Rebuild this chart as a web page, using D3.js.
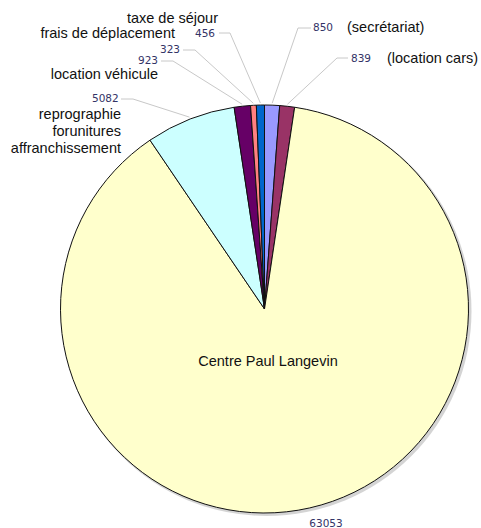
<!DOCTYPE html>
<html>
<head>
<meta charset="utf-8">
<script src="https://cdn.jsdelivr.net/npm/d3@7"></script>
<style>
  body { margin: 0; background: #fff; }
  svg { display: block; }
</style>
</head>
<body>
<div id="pieChart"></div>
<script>
// 1: DATA (clockwise from 12 o'clock)
const categories = ["(secrétariat)", "(location cars)", "Centre Paul Langevin", "reprographie\nforunitures\naffranchissement", "location véhicule", "frais de déplacement", "taxe de séjour"];
const values = [850, 839, 63053, 5082, 923, 323, 456];
const colors = ["#9999ff", "#993366", "#ffffcc", "#ccffff", "#660066", "#ff8080", "#0066cc"];

// label layout (value label anchor, category label anchor)
const valuePos = [[313, 31], [351, 62], [326, 527], [92, 102], [138, 64], [160, 53], [195, 37]];
const catPos = [[347, 32, "start"], [387, 63, "start"], [268, 366, "middle"], [121, 119, "end"], [158, 79, "end"], [175, 38, "end"], [218, 23, "end"]];
const elbow = [[298, 28], [337, 58], null, [133, 99], [173, 61], [195, 50], [230, 33]];
const leaderStart = [[311, 28], [348, 58], null, [121, 99], [161, 61], [183, 50], [219, 33]];

const W = 481, H = 528;
const cx = 264.5, cy = 309, radius = 204;

const svg = d3.select("#pieChart")
    .append("svg")
    .attr("width", W)
    .attr("height", H);

const data = values.map((v, i) => ({ name: categories[i], value: v, color: colors[i], i }));

const pie = d3.pie().sort(null).value(d => d.value);
const arcs = pie(data);

const arc = d3.arc().innerRadius(0).outerRadius(radius);
const rim = d3.arc().innerRadius(radius + 2).outerRadius(radius + 2);

const g = svg.append("g").attr("transform", `translate(${cx},${cy})`);

// soft shadow
g.append("circle")
    .attr("cx", 2).attr("cy", 2)
    .attr("r", radius + 1)
    .attr("fill", "#b8b8b8")
    .attr("opacity", 0.6);

g.selectAll("path.slice")
    .data(arcs)
    .enter()
    .append("path")
    .attr("class", "slice")
    .attr("d", arc)
    .attr("fill", d => d.data.color)
    .attr("stroke", "#111")
    .attr("stroke-width", 1)
    .attr("stroke-linejoin", "round");

// leader lines
arcs.forEach((d, i) => {
    if (!elbow[i]) return;
    const [px, py] = rim.centroid(d);
    const pts = [leaderStart[i], elbow[i], [cx + px, cy + py]];
    svg.append("polyline")
        .attr("points", pts.map(p => p.join(",")).join(" "))
        .attr("fill", "none")
        .attr("stroke", "#c8c8c8")
        .attr("stroke-width", 1);
});

// value labels
svg.selectAll("text.val")
    .data(data)
    .enter()
    .append("text")
    .attr("class", "val")
    .attr("x", d => valuePos[d.i][0])
    .attr("y", d => valuePos[d.i][1])
    .attr("text-anchor", d => d.i === 2 ? "middle" : "start")
    .attr("font-family", "DejaVu Sans, sans-serif")
    .attr("font-size", "10.5px")
    .attr("fill", "#333366")
    .text(d => d.value);

// category labels
data.forEach(d => {
    const [x, y, anchor] = catPos[d.i];
    const t = svg.append("text")
        .attr("x", x)
        .attr("y", y)
        .attr("text-anchor", anchor)
        .attr("font-family", "Liberation Sans, Arial, sans-serif")
        .attr("font-size", "14.5px")
        .attr("fill", "#111");
    d.name.split("\n").forEach((line, k) => {
        t.append("tspan")
            .attr("x", x)
            .attr("dy", k === 0 ? 0 : 17)
            .text(line);
    });
});
</script>
</body>
</html>
